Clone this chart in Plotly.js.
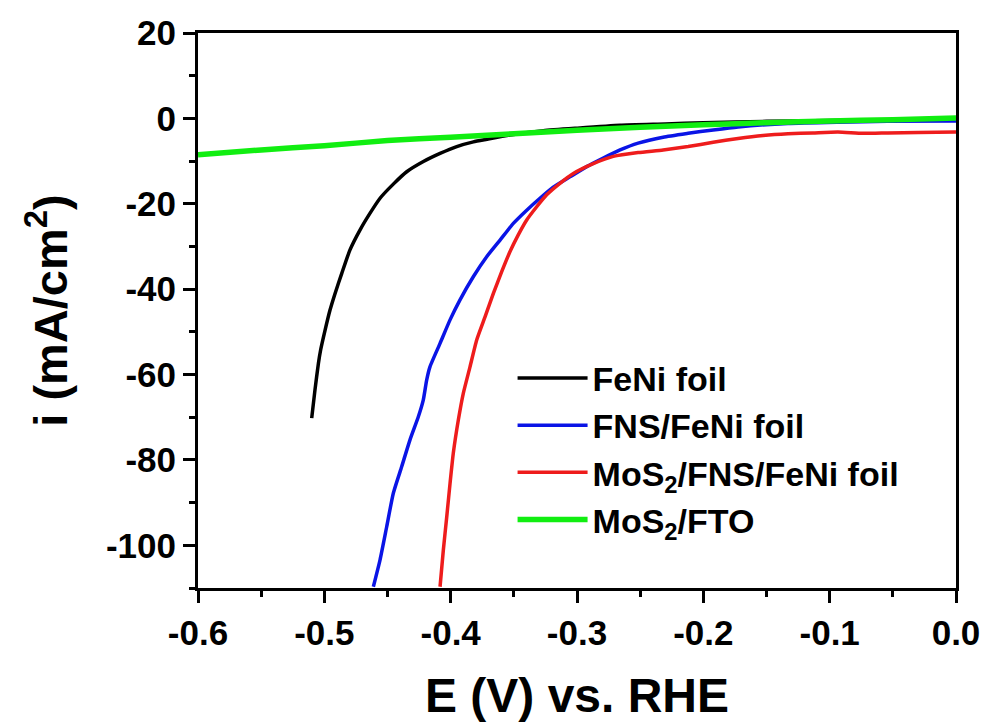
<!DOCTYPE html>
<html>
<head>
<meta charset="utf-8">
<script src="https://cdn.plot.ly/plotly-3.0.1.min.js"></script>
<style>html,body{margin:0;padding:0;background:#fff;}#chart{width:986px;height:722px;}</style>
</head>
<body>
<div id="chart"></div>
<script>
// Series names
const seriesNames = ["FeNi foil", "FNS/FeNi foil", "MoS<sub>2</sub>/FNS/FeNi foil", "MoS<sub>2</sub>/FTO"];

// Tick values and labels
const xTickVals = [-0.6, -0.5, -0.4, -0.3, -0.2, -0.1, 0.0];
const xTickText = ["-0.6", "-0.5", "-0.4", "-0.3", "-0.2", "-0.1", "0.0"];
const yTickVals = [20, 0, -20, -40, -60, -80, -100];
const yTickText = ["20", "0", "-20", "-40", "-60", "-80", "-100"];

// FeNi foil (black)
const feniX = [-0.510, -0.5074, -0.5047, -0.5029, -0.4994, -0.4955, -0.4915, -0.4862, -0.4797, -0.4717, -0.4638, -0.4559, -0.4454, -0.4348, -0.4216, -0.4084, -0.3952, -0.382, -0.3714, -0.353, -0.3266, -0.3002, -0.2659, -0.23, -0.20, -0.15, -0.10, -0.05, 0.0];
const feniY = [-70.2, -63.6, -57.4, -54.2, -49.6, -44.9, -41.0, -36.3, -30.8, -26.1, -22.2, -18.7, -15.4, -12.5, -10.1, -8.2, -6.6, -5.5, -4.9, -3.9, -2.9, -2.3, -1.6, -1.3, -1.0, -0.7, -0.5, -0.3, -0.1];

// FNS/FeNi foil (blue)
const fnsX = [-0.4612, -0.4559, -0.4506, -0.4454, -0.4388, -0.4322, -0.4256, -0.4217, -0.419, -0.4164, -0.4084, -0.4005, -0.3926, -0.3821, -0.3715, -0.3609, -0.3504, -0.3398, -0.3293, -0.3188, -0.3056, -0.2923, -0.2792, -0.2659, -0.2516, -0.2318, -0.212, -0.1922, -0.1725, -0.133, -0.0935, -0.054, 0.0];
const fnsY = [-109.7, -103.4, -95.6, -87.8, -81.6, -75.3, -69.9, -66.0, -61.3, -58.2, -52.7, -47.2, -42.5, -37.1, -32.4, -28.5, -24.6, -21.5, -18.7, -16.1, -13.7, -11.3, -9.3, -7.4, -5.8, -4.4, -3.5, -2.7, -2.0, -1.2, -0.9, -0.7, -0.6];

// MoS2/FNS/FeNi foil (red)
const mosFnsX = [-0.4084, -0.4058, -0.4031, -0.4005, -0.3979, -0.3939, -0.39, -0.3847, -0.3794, -0.3728, -0.3662, -0.3596, -0.353, -0.3465, -0.3398, -0.3319, -0.324, -0.3135, -0.3029, -0.2871, -0.2713, -0.2516, -0.2318, -0.212, -0.1922, -0.1725, -0.1527, -0.133, -0.1132, -0.0935, -0.0738, -0.054, -0.03, 0.0];
const mosFnsY = [-109.7, -101.1, -93.3, -85.5, -78.4, -70.6, -64.4, -58.2, -51.9, -46.5, -41.0, -35.9, -31.2, -27.3, -23.8, -20.7, -17.9, -15.2, -12.9, -10.6, -8.9, -8.0, -7.4, -6.6, -5.6, -4.7, -4.0, -3.6, -3.4, -3.2, -3.5, -3.4, -3.3, -3.2];

// MoS2/FTO (green)
const ftoX = [-0.60, -0.55, -0.50, -0.45, -0.40, -0.35, -0.30, -0.25, -0.20, -0.15, -0.10, -0.05, 0.0];
const ftoY = [-8.5, -7.4, -6.4, -5.2, -4.4, -3.6, -2.8, -2.1, -1.5, -1.0, -0.6, -0.3, 0.1];

const colors = ["#000000", "#0a14e6", "#ee1c1c", "#11ee11"];
const widths = [3.5, 3.5, 3.5, 5.5];

const xs = [feniX, fnsX, mosFnsX, ftoX];
const ys = [feniY, fnsY, mosFnsY, ftoY];

const traces = xs.map((x, i) => ({
  x: x, y: ys[i], type: "scatter", mode: "lines",
  name: seriesNames[i],
  line: {color: colors[i], width: widths[i], shape: "spline", smoothing: 0.5}
}));

const font = {family: "Arial, 'Liberation Sans', sans-serif", color: "#000", weight: "bold"};

const layout = {
  width: 986, height: 722,
  margin: {l: 198, r: 30, t: 33, b: 134},
  paper_bgcolor: "#fff", plot_bgcolor: "#fff",
  showlegend: true,
  legend: {
    x: 0.415, y: 0.43, xanchor: "left", yanchor: "top",
    bgcolor: "rgba(0,0,0,0)", borderwidth: 0,
    font: Object.assign({}, font, {size: 34}),
    itemwidth: 70, tracegroupgap: 0
  },
  xaxis: {
    range: [-0.6, 0.0], tickmode: "array", tickvals: xTickVals, ticktext: xTickText,
    ticks: "outside", ticklen: 12, tickwidth: 3, tickcolor: "#000",
    minor: {dtick: 0.05, tick0: 0, ticks: "outside", ticklen: 6, tickwidth: 3, tickcolor: "#000"},
    showline: true, linewidth: 3, linecolor: "#000", mirror: true,
    showgrid: false, zeroline: false,
    tickfont: Object.assign({}, font, {size: 35}),
    title: {text: "E (V) vs. RHE", font: Object.assign({}, font, {size: 48}), standoff: 28}
  },
  yaxis: {
    range: [-110, 20], tickmode: "array", tickvals: yTickVals, ticktext: yTickText,
    ticks: "outside", ticklen: 12, tickwidth: 3, tickcolor: "#000",
    minor: {dtick: 10, tick0: 0, ticks: "outside", ticklen: 6, tickwidth: 3, tickcolor: "#000"},
    showline: true, linewidth: 3, linecolor: "#000", mirror: true,
    showgrid: false, zeroline: false,
    tickfont: Object.assign({}, font, {size: 35}),
    title: {text: "i (mA/cm<sup>2</sup>)", font: Object.assign({}, font, {size: 47}), standoff: 24}
  }
};

Plotly.newPlot("chart", traces, layout, {displayModeBar: false, staticPlot: true});
</script>
</body>
</html>
